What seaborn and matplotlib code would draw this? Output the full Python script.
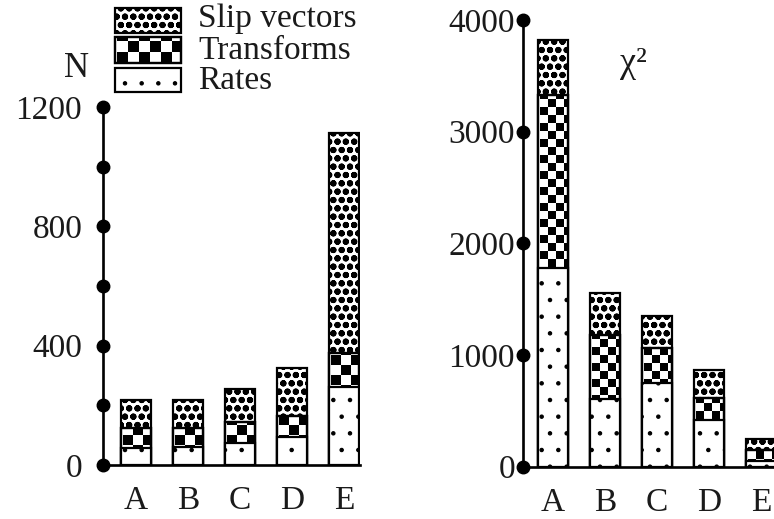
import numpy as np
import matplotlib
matplotlib.use("Agg")
import matplotlib.pyplot as plt
import seaborn as sns
from matplotlib.patches import Rectangle
from matplotlib.collections import PatchCollection
from matplotlib.transforms import IdentityTransform

# ---- data -------------------------------------------------------------
groups = ["A", "B", "C", "D", "E"]

# number of data used in each inversion
n_rates = [57, 62, 75, 93, 262]
n_transforms = [67, 63, 70, 71, 114]
n_slip = [94, 93, 110, 160, 738]
n_ticks = [0, 200, 400, 600, 800, 1000, 1200]
n_ticklabels = ["0", "", "400", "", "800", "", "1200"]

# chi-square misfit contributed by each data type
chi_rates = [1780, 606, 752, 418, 55]
chi_transforms = [1550, 573, 308, 194, 95]
chi_slip = [490, 374, 292, 254, 95]
chi_ticks = [0, 1000, 2000, 3000, 4000]
chi_ticklabels = ["0", "1000", "2000", "3000", "4000"]

series_names = ["Slip vectors", "Transforms", "Rates"]

# ---- style ------------------------------------------------------------
sns.set_theme(style="white")
plt.rcParams["font.family"] = ["Liberation Serif", "DejaVu Serif"]
plt.rcParams["hatch.color"] = "black"

SLIP_HATCH, SLIP_HLW = "oo", 2.1
RATE_HATCH, RATE_HLW = ".", 0.8

W, H = 774, 519
FS = 24
LW = 1.6
INK = "#1a1a1a"
fig = plt.figure(figsize=(W / 100, H / 100), dpi=100)


def px_axes(left, right, bottom, top):
    return fig.add_axes([left / W, (H - bottom) / H, (right - left) / W, (bottom - top) / H])


def checker(patch, size, z, add):
    """Tile black squares over a patch (display units), clipped to it."""
    bb = patch.get_window_extent()
    squares = []
    nx = int(np.ceil(bb.width / size)) + 1
    ny = int(np.ceil(bb.height / size)) + 1
    for i in range(nx):
        for j in range(ny):
            if (i + j) % 2 == 0:
                squares.append(Rectangle((bb.x0 + 2 + i * size, bb.y0 + j * size), size, size))
    coll = PatchCollection(squares, facecolor="black", edgecolor="none",
                           transform=IdentityTransform(), zorder=z)
    add(coll)
    coll.set_clip_path(patch)


def stacked(ax, rates, transforms, slip, ticks, ticklabels, xlim, ylim, cell, ypad):
    ax.set_xlim(*xlim)
    ax.set_ylim(*ylim)
    tot_t = np.add(rates, transforms)
    tot_s = tot_t + np.array(slip)
    common = dict(color="white", saturation=1, edgecolor="black", linewidth=LW,
                  width=0.57, errorbar=None, ax=ax)
    with plt.rc_context({"hatch.linewidth": SLIP_HLW}):
        sns.barplot(x=groups, y=tot_s, hatch=SLIP_HATCH, zorder=2, **common)
    k = len(ax.patches)
    sns.barplot(x=groups, y=tot_t, zorder=3, **common)
    trans_bars = ax.patches[k:]
    with plt.rc_context({"hatch.linewidth": RATE_HLW}):
        sns.barplot(x=groups, y=list(rates), hatch=RATE_HATCH, zorder=4, **common)
    ax.set_xlim(*xlim)
    ax.set_ylim(*ylim)
    for p in trans_bars:
        checker(p, cell, 3.2, lambda c: ax.add_collection(c, autolim=False))
        ax.add_patch(Rectangle(p.get_xy(), p.get_width(), p.get_height(), fill=False,
                               edgecolor="black", linewidth=LW, zorder=3.3))
    for s in ["top", "right"]:
        ax.spines[s].set_visible(False)
    for s in ["left", "bottom"]:
        ax.spines[s].set_linewidth(LW * 1.2)
        ax.spines[s].set_color("black")
    ax.plot([xlim[0]] * len(ticks), ticks, "o", color="black", ms=9,
            clip_on=False, zorder=6)
    ax.set_yticks(ticks)
    ax.set_yticklabels(ticklabels)
    ax.tick_params(axis="y", length=0, pad=ypad, labelsize=FS, colors=INK)
    ax.tick_params(axis="x", length=0, pad=15, labelsize=FS, colors=INK)
    ax.set_xlabel("")
    ax.set_ylabel("")
    ax.patch.set_alpha(0)


# left panel: N
ax1 = px_axes(103, 103 + 4.945 * 52, 465, 107)
stacked(ax1, n_rates, n_transforms, n_slip, n_ticks, n_ticklabels,
        (-0.635, 4.31), (0, 1200), 10, 15)

# right panel: chi-square
ax2 = px_axes(523.3, 523.3 + 4.871 * 52, 466.7, 20)
stacked(ax2, chi_rates, chi_transforms, chi_slip, chi_ticks, chi_ticklabels,
        (-0.571, 4.3), (0, 4000), 8, 6)

fig.text(64 / W, 1 - 77 / H, "N", fontsize=FS + 1, ha="left", va="baseline", color=INK)
fig.text(620 / W, 1 - 72 / H, "χ²", fontsize=FS + 2, ha="left", va="baseline", color=INK)

# legend drawn by hand at the top of the left panel
rows = [(8, 33), (37, 63), (68, 92)]
baselines = [27, 59, 89]
hatches = [(SLIP_HATCH, SLIP_HLW), (None, 1.0), (RATE_HATCH, RATE_HLW)]
for name, (top, bot), base, (h, hlw) in zip(series_names, rows, baselines, hatches):
    with plt.rc_context({"hatch.linewidth": hlw}):
        rect = Rectangle((115 / W, 1 - bot / H), 66 / W, (bot - top) / H,
                         facecolor="white", edgecolor="black", linewidth=LW,
                         hatch=h, transform=fig.transFigure)
    fig.add_artist(rect)
    if h is None:
        checker(rect, 11, 3, fig.add_artist)
        fig.add_artist(Rectangle((115 / W, 1 - bot / H), 66 / W, (bot - top) / H,
                                 fill=False, edgecolor="black", linewidth=LW,
                                 transform=fig.transFigure))
    fig.text(198 / W, 1 - base / H, name, fontsize=FS, ha="left", va="baseline",
             color=INK)

fig.savefig("out.png", dpi=100)
